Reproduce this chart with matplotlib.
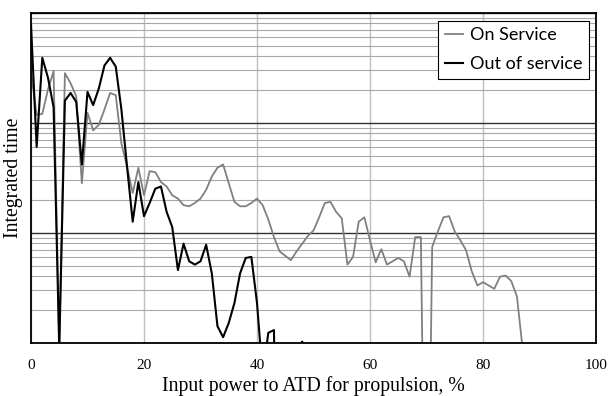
import numpy as np
import matplotlib
matplotlib.use("Agg")
from matplotlib import pyplot as plt
from matplotlib.ticker import LogLocator, NullFormatter

# values as log10 of integrated time (y axis is unlabeled)
on_x = list(range(0, 88))
on_service_log10 = [
    2.46, 2.07, 2.08, 2.30, 2.47, -0.05, 2.45, 2.36, 2.24, 1.45,
    2.09, 1.93, 1.98, 2.12, 2.27, 2.25, 1.81, 1.60, 1.36, 1.59,
    1.34, 1.56, 1.55, 1.46, 1.42, 1.34, 1.31, 1.25, 1.24, 1.27,
    1.31, 1.39, 1.51, 1.59, 1.62, 1.45, 1.28, 1.24, 1.24, 1.27,
    1.31, 1.25, 1.12, 0.96, 0.83, 0.79, 0.75, 0.83, 0.90, 0.97,
    1.02, 1.14, 1.27, 1.28, 1.19, 1.13, 0.71, 0.78, 1.10, 1.14,
    0.93, 0.73, 0.85, 0.71, 0.74, 0.77, 0.74, 0.60, 0.96, 0.96,
    -3.0, 0.87, 1.01, 1.14, 1.15, 1.01, 0.93, 0.84, 0.65, 0.52,
    0.55, 0.52, 0.49, 0.60, 0.61, 0.56, 0.42, -0.05,
]

out_x = list(range(0, 50))
out_of_service_log10 = [
    2.89, 1.78, 2.59, 2.41, 2.14, -0.05, 2.20, 2.27, 2.19, 1.62,
    2.28, 2.16, 2.31, 2.52, 2.59, 2.51, 2.12, 1.60, 1.10, 1.46,
    1.15, 1.27, 1.40, 1.42, 1.19, 1.05, 0.66, 0.90, 0.74, 0.71,
    0.74, 0.89, 0.63, 0.15, 0.05, 0.18, 0.36, 0.63, 0.77, 0.78,
    0.36, -0.30, 0.09, 0.115, -3.0, -3.0, -3.0, -3.0, 0.01, -3.0,
]

x_ticks = [0, 20, 40, 60, 80, 100]

on_service = np.power(10.0, on_service_log10)
out_of_service = np.power(10.0, out_of_service_log10)

fig = plt.figure(figsize=(6.09, 3.96), dpi=100)
ax = fig.add_axes([0.0509, 0.1346, 0.9278, 0.8334])

ax.plot(on_x, on_service, color="#808080", lw=1.3, label="On Service")
ax.plot(out_x, out_of_service, color="black", lw=1.5, label="Out of service")

ax.set_yscale("log")
ax.set_ylim(1, 1000)
ax.set_xlim(0, 100)
ax.set_xticks(x_ticks)
ax.yaxis.set_major_locator(LogLocator(base=10, numticks=10))
ax.yaxis.set_minor_locator(LogLocator(base=10, subs=np.arange(2, 10), numticks=20))
ax.yaxis.set_major_formatter(NullFormatter())
ax.yaxis.set_minor_formatter(NullFormatter())

ax.grid(axis="x", which="major", color="#c0c0c0", lw=1.0)
ax.grid(axis="y", which="major", color="#303030", lw=1.0)
ax.grid(axis="y", which="minor", color="#a8a8a8", lw=0.8)
ax.set_axisbelow(True)

ax.tick_params(axis="both", which="both", length=0)
ax.tick_params(axis="x", pad=12)
for lbl in ax.get_xticklabels():
    lbl.set_fontfamily("Liberation Serif")
    lbl.set_fontsize(11)

for sp in ax.spines.values():
    sp.set_color("black")
    sp.set_linewidth(1.3)

ax.set_xlabel("Input power to ATD for propulsion, %", family="Liberation Serif",
              fontsize=14.2, labelpad=3)
ax.set_ylabel("Integrated time", family="Liberation Serif", fontsize=14.2,
              labelpad=2)

leg = ax.legend(loc="upper right", bbox_to_anchor=(0.987, 0.976), prop={"family": "Lato", "size": 13},
                fancybox=False, framealpha=1, edgecolor="black",
                handlelength=1.0, handletextpad=0.4, labelspacing=0.75,
                borderpad=0.35, borderaxespad=0)
leg.get_frame().set_linewidth(0.8)

fig.savefig("out.png", dpi=100)
